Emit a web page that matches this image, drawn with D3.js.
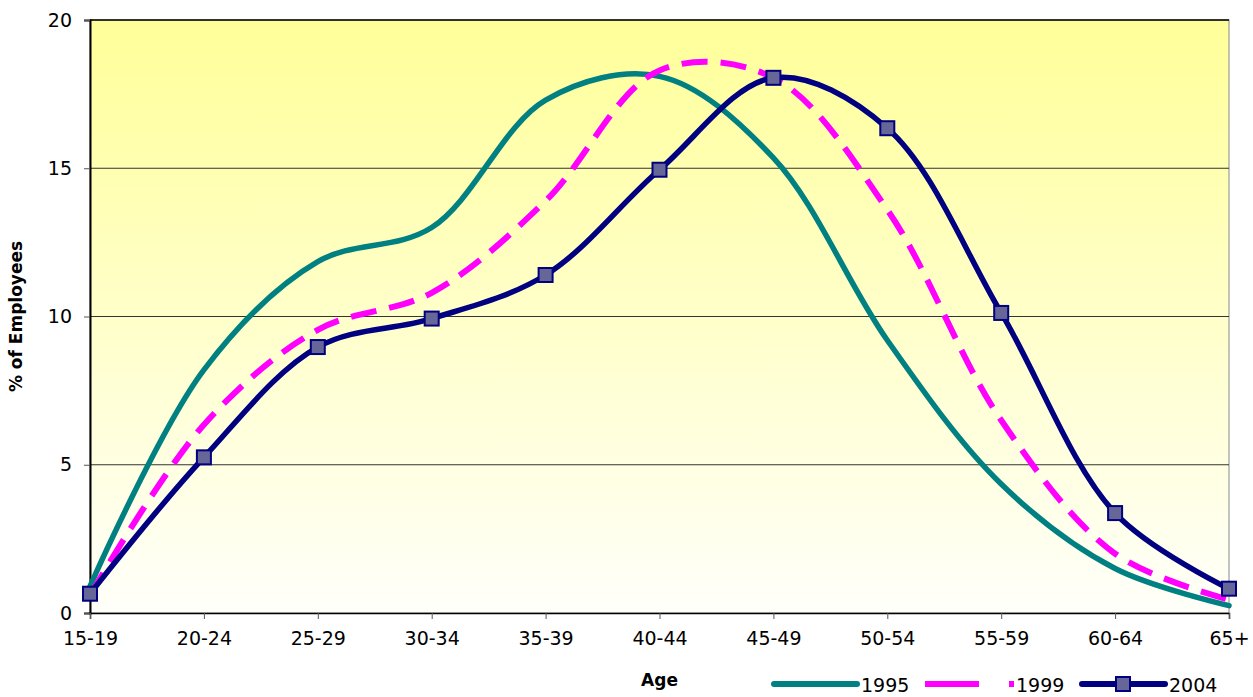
<!DOCTYPE html>
<html>
<head>
<meta charset="utf-8">
<script src="https://cdn.jsdelivr.net/npm/d3@7"></script>
<style>
  body { margin: 0; background: #fff; }
  text { font-family: "DejaVu Sans", Tahoma, sans-serif; fill: #000; }
</style>
</head>
<body>
<div id="chart"></div>
<script>
// age groups
const ages = ['15-19','20-24','25-29','30-34','35-39','40-44','45-49','50-54','55-59','60-64','65+'];
// % of employees per year
const s1995 = [0.9, 8.2, 11.85, 13.0, 17.3, 18.1, 15.35, 9.2, 4.35, 1.5, 0.25];
const s1999 = [0.6, 6.35, 9.55, 10.8, 13.9, 18.3, 18.05, 13.6, 6.5, 2.0, 0.45];
const s2004 = [0.65, 5.25, 8.97, 9.93, 11.4, 14.95, 18.05, 16.35, 10.12, 3.37, 0.82];
const yTicks = [0, 5, 10, 15, 20];

const W = 1253, H = 697;
const margin = { top: 20, right: 24, bottom: 84, left: 90 };
const width = W - margin.left - margin.right;
const height = H - margin.top - margin.bottom;

const svg = d3.select('#chart').append('svg')
  .attr('width', W).attr('height', H);

const defs = svg.append('defs');
const grad = defs.append('linearGradient')
  .attr('id', 'bg').attr('x1', 0).attr('y1', 0).attr('x2', 0).attr('y2', 1);
grad.append('stop').attr('offset', '0%').attr('stop-color', '#ffff99');
grad.append('stop').attr('offset', '100%').attr('stop-color', '#fffffa');

const g = svg.append('g').attr('transform', `translate(${margin.left},${margin.top})`);

const x = d3.scalePoint().domain(ages).range([0, width]);
const y = d3.scaleLinear().domain([0, 20]).range([height, 0]);

// plot background
g.append('rect').attr('width', width).attr('height', height)
  .attr('fill', 'url(#bg)').attr('stroke', '#888').attr('stroke-width', 1);

// gridlines
g.selectAll('.grid').data(yTicks.slice(1, 4)).enter().append('line')
  .attr('x1', 0).attr('x2', width)
  .attr('y1', d => y(d)).attr('y2', d => y(d))
  .attr('stroke', '#333').attr('stroke-width', 1);
g.append('line').attr('x1', 0).attr('x2', width).attr('y1', 0).attr('y2', 0)
  .attr('stroke', '#000').attr('stroke-width', 1.5);

// axes
const yAxis = g.append('g')
  .call(d3.axisLeft(y).tickValues(yTicks).tickSize(6).tickPadding(12));
yAxis.select('.domain').attr('stroke', '#000').attr('stroke-width', 2);
yAxis.selectAll('.tick line').attr('stroke', '#555');
yAxis.selectAll('text').style('font-size', '19px');

const xAxis = g.append('g').attr('transform', `translate(0,${height})`)
  .call(d3.axisBottom(x).tickSize(6).tickPadding(13));
xAxis.select('.domain').attr('stroke', '#000').attr('stroke-width', 1.5);
xAxis.selectAll('.tick line').attr('stroke', '#555');
xAxis.selectAll('text').style('font-size', '19px');

// axis titles
svg.append('text')
  .attr('transform', `translate(22,${margin.top + height / 2}) rotate(-90)`)
  .attr('text-anchor', 'middle')
  .style('font-size', '17px').style('font-weight', 'bold')
  .text('% of Employees');
svg.append('text')
  .attr('x', margin.left + width / 2).attr('y', 686)
  .attr('text-anchor', 'middle')
  .style('font-size', '17px').style('font-weight', 'bold')
  .text('Age');

const line = d3.line()
  .x((d, i) => x(ages[i]))
  .y(d => y(d))
  .curve(d3.curveCatmullRom.alpha(0.5));

g.append('path').datum(s1995).attr('d', line)
  .attr('fill', 'none').attr('stroke', '#008080').attr('stroke-width', 5.5)
  .attr('stroke-linecap', 'round');
g.append('path').datum(s1999).attr('d', line)
  .attr('fill', 'none').attr('stroke', '#ff00ff').attr('stroke-width', 6)
  .attr('stroke-dasharray', '26,13');
g.append('path').datum(s2004).attr('d', line)
  .attr('fill', 'none').attr('stroke', '#000080').attr('stroke-width', 5.5)
  .attr('stroke-linecap', 'round');

g.selectAll('.mk').data(s2004).enter().append('rect')
  .attr('x', (d, i) => x(ages[i]) - 7).attr('y', d => y(d) - 7)
  .attr('width', 14).attr('height', 14)
  .attr('fill', '#666699').attr('stroke', '#000080').attr('stroke-width', 2);

// legend
const lg = svg.append('g').attr('transform', 'translate(0,684)');
lg.append('line').attr('x1', 774).attr('x2', 857).attr('y1', 0).attr('y2', 0)
  .attr('stroke', '#008080').attr('stroke-width', 6).attr('stroke-linecap', 'round');
lg.append('text').attr('x', 861).attr('y', 8).style('font-size', '19px').text('1995');
lg.append('line').attr('x1', 925).attr('x2', 1014).attr('y1', 0).attr('y2', 0)
  .attr('stroke', '#ff00ff').attr('stroke-width', 6).attr('stroke-dasharray', '54,30');
lg.append('text').attr('x', 1016).attr('y', 8).style('font-size', '19px').text('1999');
lg.append('line').attr('x1', 1082).attr('x2', 1165).attr('y1', 0).attr('y2', 0)
  .attr('stroke', '#000080').attr('stroke-width', 6).attr('stroke-linecap', 'round');
lg.append('rect').attr('x', 1116).attr('y', -7).attr('width', 14).attr('height', 14)
  .attr('fill', '#666699').attr('stroke', '#000080').attr('stroke-width', 2);
lg.append('text').attr('x', 1169).attr('y', 8).style('font-size', '19px').text('2004');
</script>
</body>
</html>
